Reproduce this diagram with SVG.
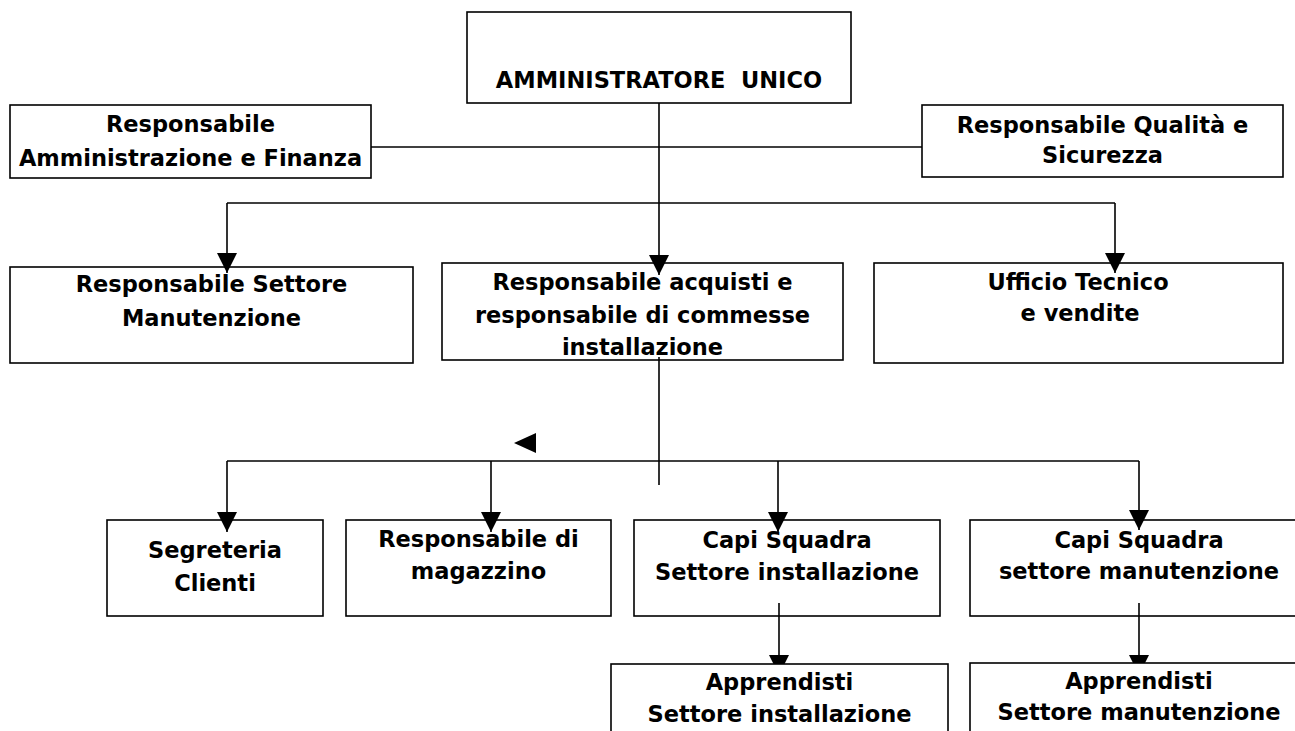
<svg xmlns="http://www.w3.org/2000/svg" width="1295" height="731" viewBox="0 0 1295 731">
<style>
.box{fill:#fff;stroke:#000;stroke-width:1.6}
.t{font-family:"DejaVu Sans","Liberation Sans",sans-serif;font-weight:bold;font-size:22.5px;fill:#000;text-anchor:middle}
.c{fill:none;stroke:#000;stroke-width:1.6}
.h{fill:#000;stroke:none}
</style>
<defs>
<marker id="arr" viewBox="0 0 20 20" refX="20" refY="10" markerWidth="20" markerHeight="20" orient="auto" markerUnits="userSpaceOnUse">
<path d="M0,0 L20,10 L0,20 z" fill="#000"/>
</marker>
</defs>
<rect width="1295" height="731" fill="#fff"/>
<g id="nodes">
<g id="n-amministratore">
<rect class="box" x="467" y="12" width="384" height="91"/>
<text class="t" x="659" y="88" xml:space="preserve">AMMINISTRATORE  UNICO</text>
</g>
<g id="n-amm-finanza">
<rect class="box" x="10" y="105" width="361" height="73"/>
<text class="t" x="190.5" y="132">Responsabile</text>
<text class="t" x="190.5" y="166">Amministrazione e Finanza</text>
</g>
<g id="n-qualita">
<rect class="box" x="922" y="105" width="361" height="72"/>
<text class="t" x="1102.5" y="133">Responsabile Qualità e</text>
<text class="t" x="1102.5" y="163">Sicurezza</text>
</g>
<g id="n-settore-manutenzione">
<rect class="box" x="10" y="267" width="403" height="96"/>
<text class="t" x="211.5" y="292">Responsabile Settore</text>
<text class="t" x="211.5" y="326">Manutenzione</text>
</g>
<g id="n-acquisti">
<rect class="box" x="442" y="263" width="401" height="97"/>
<text class="t" x="642.5" y="290">Responsabile acquisti e</text>
<text class="t" x="642.5" y="323">responsabile di commesse</text>
<text class="t" x="642.5" y="355">installazione</text>
</g>
<g id="n-ufficio-tecnico">
<rect class="box" x="874" y="263" width="409" height="100"/>
<text class="t" x="1078" y="290">Ufficio Tecnico</text>
<text class="t" x="1080" y="321">e vendite</text>
</g>
<g id="n-segreteria">
<rect class="box" x="107" y="520" width="216" height="96"/>
<text class="t" x="215" y="558">Segreteria</text>
<text class="t" x="215" y="591">Clienti</text>
</g>
<g id="n-magazzino">
<rect class="box" x="346" y="520" width="265" height="96"/>
<text class="t" x="478.5" y="547">Responsabile di</text>
<text class="t" x="478.5" y="579">magazzino</text>
</g>
<g id="n-capi-installazione">
<rect class="box" x="634" y="520" width="306" height="96"/>
<text class="t" x="787" y="548">Capi Squadra</text>
<text class="t" x="787" y="580">Settore installazione</text>
</g>
<g id="n-capi-manutenzione">
<rect class="box" x="970" y="520" width="340" height="96"/>
<text class="t" x="1139" y="548">Capi Squadra</text>
<text class="t" x="1139" y="579">settore manutenzione</text>
</g>
</g>
<g id="connectors">
<path class="c" d="M659,103 V275" marker-end="url(#arr)"/>
<path class="c" d="M371,147 H922"/>
<path class="c" d="M227,203 H1115"/>
<path class="c" d="M227,203 V273" marker-end="url(#arr)"/>
<path class="c" d="M1115,203 V273" marker-end="url(#arr)"/>
<path class="c" d="M659,357 V485"/>
<path class="c" d="M227,461 H1139"/>
<path class="c" d="M227,461 V532" marker-end="url(#arr)"/>
<path class="c" d="M491,461 V532" marker-end="url(#arr)"/>
<path class="c" d="M778,461 V532" marker-end="url(#arr)"/>
<path class="c" d="M1139,461 V530" marker-end="url(#arr)"/>
<polygon class="h" points="514,443 536,433 536,453"/>
<path class="c" d="M779,603 V675" marker-end="url(#arr)"/>
<path class="c" d="M1139,603 V675" marker-end="url(#arr)"/>
</g>
<g id="n-apprendisti-installazione">
<rect class="box" x="611" y="664" width="337" height="80"/>
<text class="t" x="779.5" y="690">Apprendisti</text>
<text class="t" x="779.5" y="722">Settore installazione</text>
</g>
<g id="n-apprendisti-manutenzione">
<rect class="box" x="970" y="663" width="340" height="80"/>
<text class="t" x="1139" y="689">Apprendisti</text>
<text class="t" x="1139" y="720">Settore manutenzione</text>
</g>
</svg>
